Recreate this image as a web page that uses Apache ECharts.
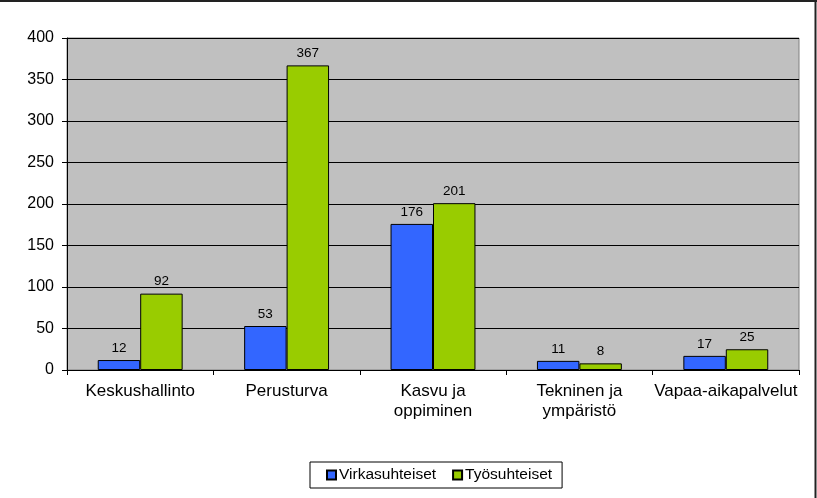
<!DOCTYPE html>
<html><head><meta charset="utf-8">
<script src="https://cdn.jsdelivr.net/npm/echarts@6/dist/echarts.min.js"></script>
<style>html,body{margin:0;padding:0;background:#fff}#c{width:817px;height:498px}</style>
</head><body><div id="c"></div>
<script>
const categories = ['Keskushallinto', 'Perusturva', 'Kasvu ja\noppiminen', 'Tekninen ja\nympäristö', 'Vapaa-aikapalvelut'];
const virkasuhteiset = [12, 53, 176, 11, 17];
const tyosuhteiset = [92, 367, 201, 8, 25];
const yTicks = {min: 0, max: 400, interval: 50};

const font = 'Liberation Sans, Arial, sans-serif';
const chart = echarts.init(document.getElementById('c'), null, {renderer: 'canvas'});
const labelCfg = {show: true, position: 'top', color: '#000', fontFamily: font, fontSize: 13.5, distance: 5};
chart.setOption({
  animation: false,
  graphic: [
    {type: 'line', shape: {x1: 0, y1: 1, x2: 817, y2: 1}, style: {stroke: '#222', lineWidth: 2}},
    {type: 'line', shape: {x1: 815.5, y1: 0, x2: 815.5, y2: 498}, style: {stroke: '#222', lineWidth: 2}}
  ],
  grid: {left: 67, right: 18, top: 38, bottom: 128, show: true, backgroundColor: '#C0C0C0', borderColor: '#808080', borderWidth: 1},
  legend: {
    top: 462, left: 310,
    data: ['Virkasuhteiset', 'Työsuhteiset'],
    itemWidth: 9, itemHeight: 9, itemGap: 16,
    borderColor: '#000', borderWidth: 1, padding: [5, 10, 5, 16],
    textStyle: {fontFamily: font, fontSize: 15.5, color: '#000', padding: [0, 0, 0, -2]},
    icon: 'rect'
  },
  xAxis: {
    type: 'category', data: categories,
    axisLine: {lineStyle: {color: '#000'}},
    axisTick: {show: true, length: 5, lineStyle: {color: '#000'}},
    axisLabel: {fontFamily: font, fontSize: 17, color: '#000', margin: 11, lineHeight: 20, interval: 0}
  },
  yAxis: {
    type: 'value', min: yTicks.min, max: yTicks.max, interval: yTicks.interval,
    axisLine: {show: true, lineStyle: {color: '#000'}},
    axisTick: {show: true, length: 5, lineStyle: {color: '#000'}},
    splitLine: {lineStyle: {color: '#000', width: 1}},
    axisLabel: {fontFamily: font, fontSize: 16, color: '#000', margin: 13}
  },
  series: [
    {name: 'Virkasuhteiset', type: 'bar', data: virkasuhteiset, barGap: '0%', barCategoryGap: '42%',
     itemStyle: {color: '#3366FF', borderColor: '#000', borderWidth: 1}, label: labelCfg},
    {name: 'Työsuhteiset', type: 'bar', data: tyosuhteiset,
     itemStyle: {color: '#99CC00', borderColor: '#000', borderWidth: 1}, label: labelCfg}
  ]
});
</script></body></html>
